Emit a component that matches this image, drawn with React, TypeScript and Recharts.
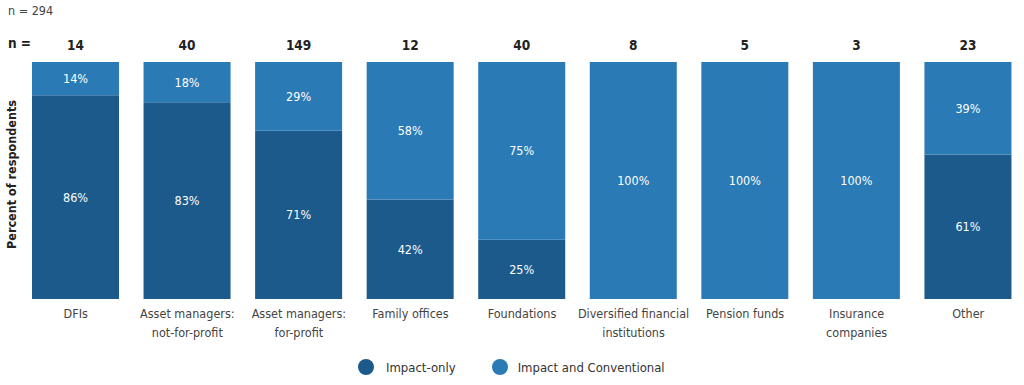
import React from 'react';
import { BarChart, Bar, XAxis, YAxis, Legend, LabelList } from 'recharts';

// condensed face like the original report
const FONT = '"Liberation Sans Narrow", "DejaVu Sans Condensed", "Roboto Condensed", Roboto, sans-serif';

const categories = [
  'DFIs',
  'Asset managers:\nnot-for-profit',
  'Asset managers:\nfor-profit',
  'Family offices',
  'Foundations',
  'Diversified financial\ninstitutions',
  'Pension funds',
  'Insurance\ncompanies',
  'Other',
];
const impactOnly = [86, 83, 71, 42, 25, 0, 0, 0, 61];
const impactConventional = [14, 18, 29, 58, 75, 100, 100, 100, 39];
const respondents = [14, 40, 149, 12, 40, 8, 5, 3, 23];
const totalN = 294;

const DARK = '#1c5a8c';
const LIGHT = '#2a7ab5';

const data = categories.map((name, i) => ({
  name,
  impactOnly: impactOnly[i],
  impactConventional: impactConventional[i],
  n: respondents[i],
}));

const pct = (v: any) => (v > 0 ? `${v}%` : '');

const CategoryTick = ({ x, y, payload }: any) => {
  const lines = String(payload.value).split('\n');
  return (
    <text x={x} y={y} textAnchor="middle" fill="#444" fontSize={12.5} fontFamily={FONT}>
      {lines.map((l, i) => (
        <tspan key={i} x={x} dy={i === 0 ? 11 : 19}>
          {l}
        </tspan>
      ))}
    </text>
  );
};

const LegendContent = () => (
  <div style={{ display: 'flex', alignItems: 'center', height: 36, paddingLeft: 358, fontFamily: FONT, fontSize: 13, color: '#333' }}>
    <span style={{ width: 16, height: 16, borderRadius: 8, background: DARK, marginRight: 12 }} />
    <span style={{ marginRight: 36 }}>Impact-only</span>
    <span style={{ width: 16, height: 16, borderRadius: 8, background: LIGHT, marginRight: 10 }} />
    <span>Impact and Conventional</span>
  </div>
);

export default function App() {
  return (
    <div style={{ position: 'absolute', left: 0, top: 0, width: 1024, height: 385, background: '#fff', fontFamily: FONT }}>
      <div style={{ position: 'absolute', left: 8, top: 3, fontSize: 12.5, color: '#444' }}>n = {totalN}</div>
      <div style={{ position: 'absolute', left: 8, top: 35, fontSize: 13.5, fontWeight: 'bold', color: '#222' }}>n =</div>
      <BarChart
        width={1024}
        height={385}
        data={data}
        margin={{ top: 62, right: 0, bottom: 0, left: 0 }}
        barSize={87}
      >
        <XAxis
          dataKey="name"
          axisLine={false}
          tickLine={false}
          height={50}
          interval={0}
          tick={<CategoryTick />}
        />
        <YAxis
          domain={[0, 100]}
          allowDataOverflow
          width={20}
          tick={false}
          axisLine={false}
          tickLine={false}
          label={{
            value: 'Percent of respondents',
            angle: -90,
            position: 'insideLeft',
            offset: 12,
            dy: -6,
            fill: '#222',
            fontSize: 12.5,
            fontWeight: 'bold',
            fontFamily: FONT,
            style: { textAnchor: 'middle' },
          }}
        />
        <Legend verticalAlign="bottom" content={<LegendContent />} />
        <Bar dataKey="impactOnly" stackId="a" fill={DARK} isAnimationActive={false}>
          <LabelList dataKey="impactOnly" position="center" formatter={pct} fill="#fff" fontSize={12.5} fontFamily={FONT} />
        </Bar>
        <Bar dataKey="impactConventional" stackId="a" fill={LIGHT} isAnimationActive={false}>
          <LabelList dataKey="impactConventional" position="center" formatter={pct} fill="#fff" fontSize={12.5} fontFamily={FONT} />
          <LabelList dataKey="n" position="top" offset={12} fill="#222" fontSize={13.5} fontWeight="bold" fontFamily={FONT} />
        </Bar>
      </BarChart>
    </div>
  );
}
